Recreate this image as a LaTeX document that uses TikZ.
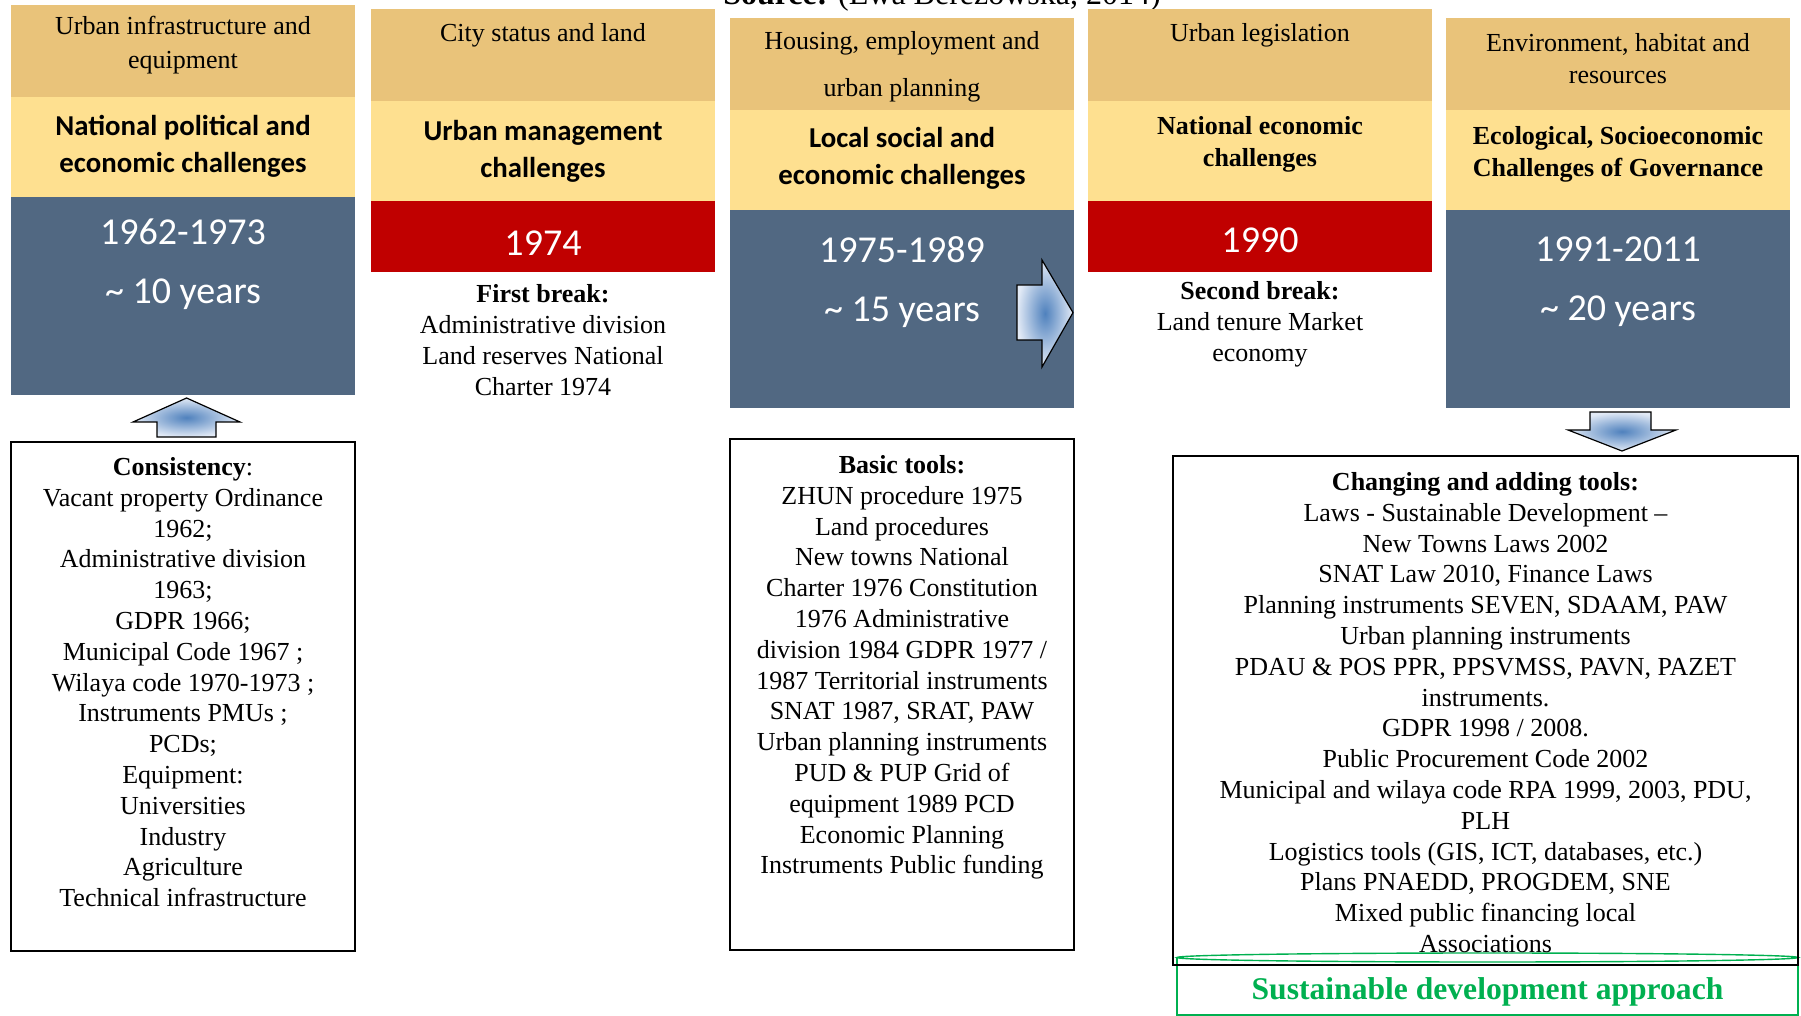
\documentclass[tikz,border=0pt]{standalone}
\usepackage{fontspec}
\setmainfont{Liberation Serif}
\setsansfont{Carlito}
\usetikzlibrary{positioning}
\definecolor{headtan}{RGB}{233,195,122}
\definecolor{challyellow}{RGB}{254,224,144}
\definecolor{periodblue}{RGB}{81,104,130}
\definecolor{breakred}{RGB}{192,0,0}
\definecolor{sdgreen}{RGB}{0,176,80}
\definecolor{arrowblue}{RGB}{79,129,189}
\definecolor{arrowpale}{RGB}{226,234,246}

\begin{document}
\begin{tikzpicture}[x=1pt,y=-1pt,
		block/.style={minimum width=172pt,inner sep=0pt,outer sep=0pt},
		head/.style={block,fill=headtan,minimum height=46pt},
		chall/.style={block,fill=challyellow,minimum height=50pt},
		period/.style={block,fill=periodblue,minimum height=99pt},
		rupture/.style={block,fill=breakred,minimum height=35.5pt},
		toolbox/.style={draw,line width=0.8pt,inner sep=0pt,outer sep=0pt,anchor=north west},
		txt/.style={align=center,inner sep=0pt,font=\fontsize{13}{15.4}\selectfont},
		headtxt/.style={align=center,inner sep=0pt,font=\fontsize{13}{#1}\selectfont},
		sanschall/.style={align=center,inner sep=0pt,font=\sffamily\bfseries\fontsize{14.4}{18.5}\selectfont},
		serifchall/.style={align=center,inner sep=0pt,font=\bfseries\fontsize{13}{16}\selectfont},
		years/.style={align=center,inner sep=0pt,text=white,font=\sffamily\fontsize{19}{29.5}\selectfont},
		blockarrow/.style={draw,line width=0.6pt,inner color=arrowblue,outer color=arrowpale}
		]
		\useasboundingbox (0,0) rectangle (900.5,508);
		
		\node[font=\fontsize{16}{16}\selectfont,anchor=base] (S0) at (471,2.5) {\textbf{Source:} (Ewa Berezowska, 2014)};
		
		\node[head,anchor=north west] (H1) at (5.5,2.5) {};
		\node[chall,below=0pt of H1] (C1) {};
		\node[period,below=0pt of C1] (P1) {};
		\node[headtxt=17] (h1) at ([yshift=-20pt]H1.north) {Urban infrastructure and\\equipment};
		\node[sanschall] (c1) at ([yshift=-24.5pt]C1.north) {National political and\\economic challenges};
		\node[years] (p1) at ([yshift=-33.5pt]P1.north) {1962-1973\\\textasciitilde\ 10 years};
		
		\node[head,anchor=north west] (H2) at (185.5,4.5) {};
		\node[chall,below=0pt of H2] (C2) {};
		\node[rupture,below=0pt of C2] (R2) {};
		\node[headtxt=17] (h2) at ([yshift=-13pt]H2.north) {City status and land};
		\node[sanschall] (c2) at ([yshift=-25pt]C2.north) {Urban management\\challenges};
		\node[years] (r2) at ([yshift=-21pt]R2.north) {1974};
		\node[txt] (k2) at ([yshift=-34pt]R2.south) {\textbf{First break:}\\Administrative division\\Land reserves National\\Charter 1974};
		
		\node[head,anchor=north west] (H3) at (365,9) {};
		\node[chall,below=0pt of H3] (C3) {};
		\node[period,below=0pt of C3] (P3) {};
		\node[headtxt=23.5] (h3) at ([yshift=-24.5pt]H3.north) {Housing, employment and\\urban planning};
		\node[sanschall] (c3) at ([yshift=-24pt]C3.north) {Local social and\\economic challenges};
		\node[years] (p3) at ([yshift=-36pt]P3.north) {1975-1989\\\textasciitilde\ 15 years};
		
		\node[head,anchor=north west] (H4) at (544,4.5) {};
		\node[chall,below=0pt of H4] (C4) {};
		\node[rupture,below=0pt of C4] (R4) {};
		\node[headtxt=17] (h4) at ([yshift=-13pt]H4.north) {Urban legislation};
		\node[serifchall] (c4) at ([yshift=-21.5pt]C4.north) {National economic\\challenges};
		\node[years] (r4) at ([yshift=-19.5pt]R4.north) {1990};
		\node[txt] (k4) at ([yshift=-26pt]R4.south) {\textbf{Second break:}\\Land tenure Market\\economy};
		
		\node[head,anchor=north west] (H5) at (723,9) {};
		\node[chall,below=0pt of H5] (C5) {};
		\node[period,below=0pt of C5] (P5) {};
		\node[headtxt=16] (h5) at ([yshift=-20.5pt]H5.north) {Environment, habitat and\\resources};
		\node[serifchall] (c5) at ([yshift=-22pt]C5.north) {Ecological, Socioeconomic\\Challenges of Governance};
		\node[years] (p5) at ([yshift=-36pt]P5.north) {1991-2011\\\textasciitilde\ 20 years};
		
		\draw[sdgreen,line width=0.7pt] (588.5,478.75) -- (588.5,507.5) -- (899,507.5) -- (899,478.75);
		\draw[sdgreen,line width=0.7pt] (743.75,478.75) ellipse [x radius=155.25pt,y radius=2.25pt];
		\node[text=sdgreen,font=\bfseries\fontsize{15.8}{16}\selectfont] (G5) at (743.75,496) {Sustainable development approach};
		
		\node[toolbox,minimum width=172pt,minimum height=254.5pt] (B1) at (5.5,221) {};
		\node[txt,below=7.5pt of B1.north] (b1) {\textbf{Consistency}:\\Vacant property Ordinance\\1962;\\Administrative division\\1963;\\GDPR 1966;\\Municipal Code 1967 ;\\Wilaya code 1970-1973 ;\\Instruments PMUs ;\\PCDs;\\Equipment:\\Universities\\Industry\\Agriculture\\Technical infrastructure};
		
		\node[toolbox,minimum width=172pt,minimum height=255.5pt] (B3) at (365,219.5) {};
		\node[txt,below=8pt of B3.north] (b3) {\textbf{Basic tools:}\\ZHUN procedure 1975\\Land procedures\\New towns National\\Charter 1976 Constitution\\1976 Administrative\\division 1984 GDPR 1977 /\\1987 Territorial instruments\\SNAT 1987, SRAT, PAW\\Urban planning instruments\\PUD \& PUP Grid of\\equipment 1989 PCD\\Economic Planning\\Instruments Public funding};
		
		\node[toolbox,minimum width=312.5pt,minimum height=254.5pt] (B5) at (586.5,228) {};
		\node[txt,below=8pt of B5.north] (b5) {\textbf{Changing and adding tools:}\\Laws - Sustainable Development --\\New Towns Laws 2002\\SNAT Law 2010, Finance Laws\\Planning instruments SEVEN, SDAAM, PAW\\Urban planning instruments\\PDAU \& POS PPR, PPSVMSS, PAVN, PAZET\\instruments.\\GDPR 1998 / 2008.\\Public Procurement Code 2002\\Municipal and wilaya code RPA 1999, 2003, PDU,\\PLH\\Logistics tools (GIS, ICT, databases, etc.)\\Plans PNAEDD, PROGDEM, SNE\\Mixed public financing local\\Associations};
		
		\draw[blockarrow] (78.5,218.5) -- (78.5,211) -- (66.5,211) -- (93.3,199) -- (120,211) -- (108,211) -- (108,218.5) -- cycle;
		\draw[blockarrow] (508.5,142.5) -- (521,142.5) -- (521,130) -- (536.5,156.3) -- (521,183.5) -- (521,170) -- (508.5,170) -- cycle;
		\draw[blockarrow] (795,206) -- (825.5,206) -- (825.5,215) -- (838,215) -- (811,225.5) -- (784,215) -- (795,215) -- cycle;
	\end{tikzpicture}
\end{document}
